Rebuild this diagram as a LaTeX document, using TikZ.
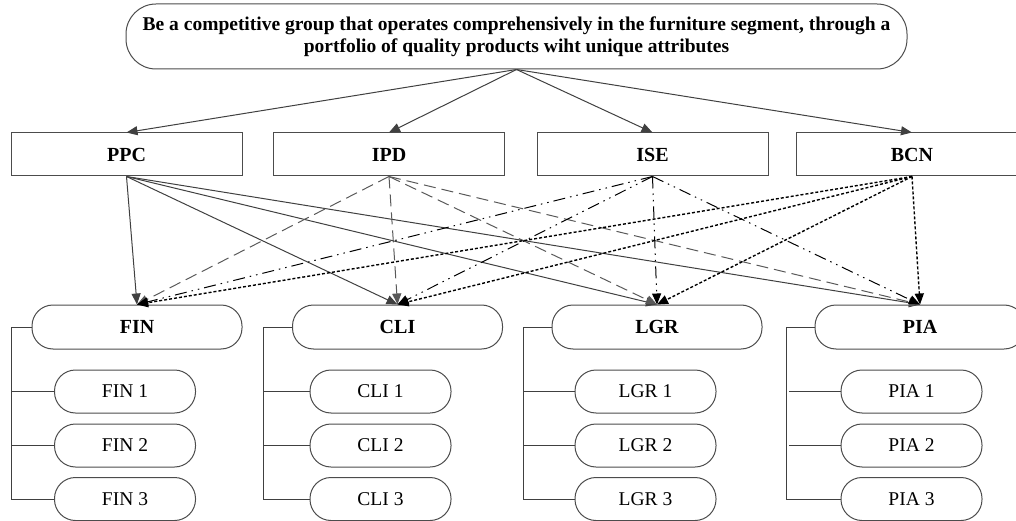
\documentclass[tikz,border=0pt]{standalone}
\usepackage{fontspec}
\setmainfont{Liberation Serif}
\usetikzlibrary{arrows.meta}

\tikzset{
    pill/.style={draw=black!70, rounded corners=21pt, minimum width=210pt, minimum height=44pt, inner sep=0pt},
    subpill/.style={draw=black!70, rounded corners=21pt, minimum width=141pt, minimum height=43pt, inner sep=0pt},
    ppcline/.style={draw=black!75, ->},
    ipdline/.style={draw=black!65, dash pattern=on 12pt off 6pt, ->},
    iseline/.style={draw=black, dash pattern=on 12pt off 5pt on 1.5pt off 5pt on 1.5pt off 5pt, ->},
    bcnline/.style={draw=black, line width=1.4pt, dash pattern=on 3pt off 2pt, ->},
}

\begin{document}
\begin{tikzpicture}[x=1pt, y=-1pt, line width=1pt,
    >={Triangle[length=11pt,width=9pt]}]
        \useasboundingbox (0,0) rectangle (1016,521);
        \clip (0,0) rectangle (1016,521);
        \node[draw=black!70, rounded corners=30pt, minimum width=781pt, minimum height=65pt, align=center,
              font=\bfseries\fontsize{19.5}{22}\selectfont] (vision) at (516.5,36.5)
              {Be a competitive group that operates comprehensively in the furniture segment, through a\\
               portfolio of quality products wiht unique attributes};
        \begin{scope}[every node/.style={draw=black!70, minimum width=231pt, minimum height=43pt, inner sep=0pt,
                      font=\bfseries\fontsize{20}{22}\selectfont}]
            \node (ppc) at (126.5,154.5) {PPC};
            \node (ipd) at (389,154.5) {IPD};
            \node (ise) at (652.5,154.5) {ISE};
            \node (bcn) at (912,154.5) {BCN};
        \end{scope}
        \begin{scope}[every node/.style={pill, font=\bfseries\fontsize{20}{22}\selectfont}]
            \node (fin) at (137,327) {FIN};
            \node (cli) at (397.5,327) {CLI};
            \node (lgr) at (657,327) {LGR};
            \node (pia) at (920,327) {PIA};
        \end{scope}
        \begin{scope}[every node/.style={subpill, font=\fontsize{19.5}{22}\selectfont}]
            \node (fin1) at (125,391.5) {FIN 1};
            \node (fin2) at (125,445.5) {FIN 2};
            \node (fin3) at (125,499) {FIN 3};
            \node (cli1) at (380.5,391.5) {CLI 1};
            \node (cli2) at (380.5,445.5) {CLI 2};
            \node (cli3) at (380.5,499) {CLI 3};
            \node (lgr1) at (645.5,391.5) {LGR 1};
            \node (lgr2) at (645.5,445.5) {LGR 2};
            \node (lgr3) at (645.5,499) {LGR 3};
            \node (pia1) at (911.5,391.5) {PIA 1};
            \node (pia2) at (911.5,445.5) {PIA 2};
            \node (pia3) at (911.5,499) {PIA 3};
        \end{scope}
        % vision to the four perspectives
        \begin{scope}[every edge/.style={draw=black!75, ->}]
            \path
                (vision.south) edge (ppc.north)
                (vision.south) edge (ipd.north)
                (vision.south) edge (ise.north)
                (vision.south) edge (bcn.north);
        \end{scope}
        % perspectives to the four groups
        \path
            (ppc.south) edge [ppcline] (fin.north)
            (ppc.south) edge [ppcline] (cli.north)
            (ppc.south) edge [ppcline] (lgr.north)
            (ppc.south) edge [ppcline] (pia.north)
            (ipd.south) edge [ipdline] (fin.north)
            (ipd.south) edge [ipdline] (cli.north)
            (ipd.south) edge [ipdline] (lgr.north)
            (ipd.south) edge [ipdline] (pia.north)
            (ise.south) edge [iseline] (fin.north)
            (ise.south) edge [iseline] (cli.north)
            (ise.south) edge [iseline] (lgr.north)
            (ise.south) edge [iseline] (pia.north)
            (bcn.south) edge [bcnline] (fin.north)
            (bcn.south) edge [bcnline] (cli.north)
            (bcn.south) edge [bcnline] (lgr.north)
            (bcn.south) edge [bcnline] (pia.north);
        % brackets
        \begin{scope}[draw=black!75]
            \draw (fin.west) -- ++(-20,0) |- (fin3.west);
            \draw (fin1.west) -- ++(-43,0);
            \draw (fin2.west) -- ++(-43,0);
            \draw (cli.west) -- ++(-29,0) |- (cli3.west);
            \draw (cli1.west) -- ++(-46,0);
            \draw (cli2.west) -- ++(-46,0);
            \draw (lgr.west) -- ++(-28,0) |- (lgr3.west);
            \draw (lgr1.west) -- ++(-51,0);
            \draw (lgr2.west) -- ++(-51,0);
            \draw (pia.west) -- ++(-28,0) |- (pia3.west);
            \draw (pia1.west) -- ++(-52,0);
            \draw (pia2.west) -- ++(-52,0);
        \end{scope}
\end{tikzpicture}
\end{document}
